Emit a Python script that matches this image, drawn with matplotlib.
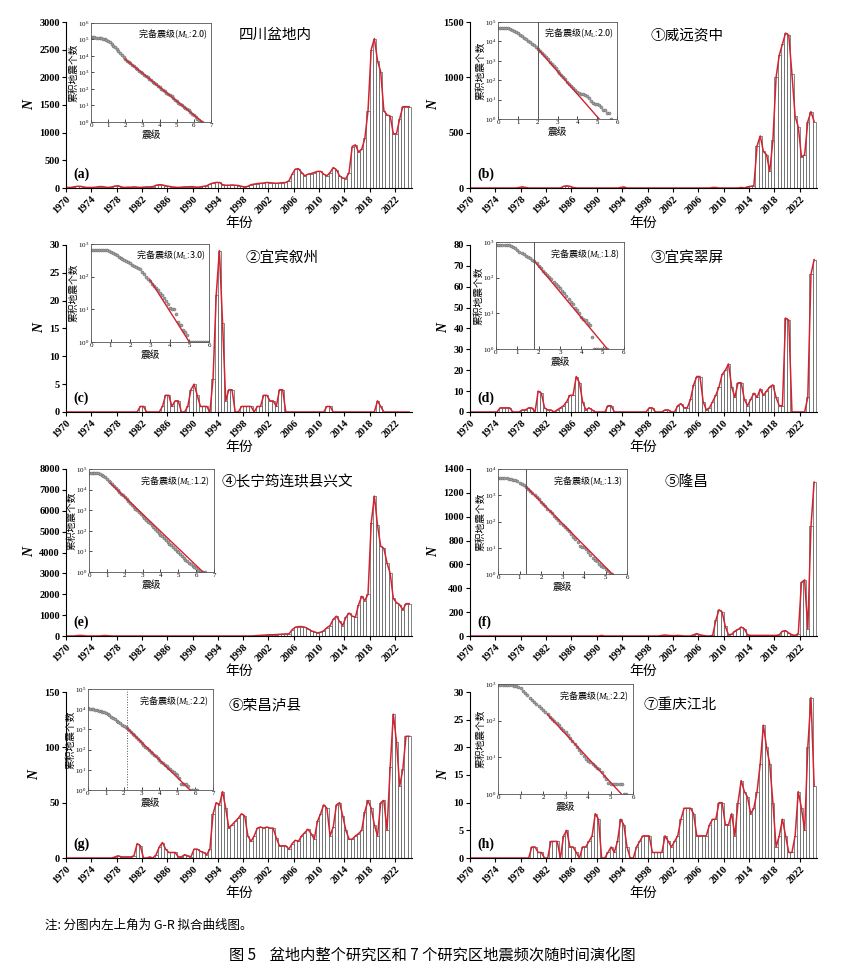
import matplotlib
matplotlib.use('Agg')
import matplotlib.pyplot as plt
import numpy as np

''' Earthquake frequency vs time (half-year bins) with G-R insets '''

plt.rcParams['font.family'] = ['Liberation Serif', 'Noto Sans CJK SC']
plt.rcParams['mathtext.fontset'] = 'custom'
plt.rcParams['mathtext.it'] = 'Liberation Serif:italic'
plt.rcParams['mathtext.rm'] = 'Liberation Serif'

# half-year counts, first bin starts 1970.0, last bin starts 2024.0
counts_a = [10,10, 20,30, 30,20, 10,10, 10,15, 25,25, 15,10, 20,35, 40,20, 10,15,
            15,20, 15,10, 15,20, 20,25, 50,60, 55,40, 30,20, 15,10, 15,20, 20,25,
            20,15, 20,30, 40,70, 90,100, 100,60, 50,50, 55,50, 45,30, 20,30, 60,70,
            80,85, 90,100, 95,90, 85,90, 95,100, 130,250, 340,350, 280,220, 250,260, 280,300,
            300,250, 220,280, 370,330, 220,180, 170,280, 750,780, 650,700, 900,1400, 2500,2700, 2300,2100,
            1400,1320, 1300,980, 980,1250, 1470,1470, 1470]
counts_b = [0,0, 0,0, 0,0, 0,0, 0,0, 0,0, 0,0, 0,5, 10,5, 0,0,
            0,0, 0,0, 0,0, 0,0, 0,15, 20,15, 5,0, 0,0, 0,0, 0,0,
            0,0, 0,0, 0,0, 0,5, 10,0, 0,0, 0,0, 0,0, 0,0, 0,0,
            0,0, 0,0, 0,0, 0,0, 0,0, 0,0, 0,0, 0,0, 5,5, 0,0,
            0,0, 0,0, 0,5, 0,10, 15,20, 380,470, 330,300, 150,430, 1000,1200, 1300,1400,
            1380,1030, 650,550, 280,300, 600,690, 600]
counts_c = [0,0, 0,0, 0,0, 0,0, 0,0, 0,0, 0,0, 0,0, 0,0, 0,0,
            0,0, 0,1, 1,0, 0,0, 0,0, 1,3, 3,1, 2,2, 0,0, 1,4,
            5,3, 1,1, 1,0, 6,21, 29,16, 2,4, 4,0, 0,1, 1,1, 1,0,
            1,1, 3,3, 2,2, 1,4, 4,0, 0,0, 0,0, 0,0, 0,0, 0,0,
            0,0, 1,1, 0,0, 0,0, 0,0, 0,0, 0,0, 0,0, 0,0, 2,1,
            0,0, 0,0, 0,0, 0,0, 0]
counts_d = [0,0, 0,0, 0,0, 0,0, 0,2, 2,2, 2,0, 0,0, 1,1, 2,2,
            0,10, 9,2, 1,1, 0,1, 2,3, 5,8, 8,17, 14,5, 1,2, 1,0,
            0,0, 0,3, 3,0, 0,0, 0,0, 0,0, 0,0, 0,0, 2,2, 0,0,
            0,1, 1,0, 0,3, 4,2, 2,6, 13,17, 17,5, 1,2, 5,8, 12,18,
            20,23, 12,7, 14,14, 6,3, 6,9, 7,11, 8,10, 12,13, 7,3, 3,45,
            44,0, 0,0, 0,0, 7,66, 73]
counts_e = [0,0, 0,20, 30,20, 0,0, 0,0, 0,15, 25,10, 0,0, 0,0, 0,0,
            0,0, 0,0, 0,0, 0,0, 0,0, 0,0, 0,0, 0,0, 0,0, 0,0,
            0,0, 0,0, 0,0, 0,0, 0,0, 0,0, 0,0, 0,0, 0,0, 0,10,
            20,30, 40,50, 60,60, 70,80, 90,100, 100,300, 420,450, 450,420, 350,250, 200,150,
            180,250, 400,500, 800,950, 700,500, 900,1100, 950,900, 1500,1900, 1700,2000, 5400,6700, 5300,4300,
            4200,3500, 3000,1800, 1600,1500, 1250,1550, 1550]
counts_f = [0,0, 0,0, 0,0, 0,0, 0,0, 0,0, 0,0, 0,0, 0,0, 0,0,
            0,0, 0,0, 0,0, 0,0, 0,0, 0,0, 0,0, 0,0, 0,0, 0,0,
            0,5, 0,0, 0,0, 0,0, 0,0, 0,0, 0,0, 0,0, 0,0, 0,0,
            5,8, 5,3, 3,5, 3,0, 0,0, 10,20, 10,5, 0,0, 5,130, 220,200,
            80,10, 15,40, 55,75, 60,10, 5,5, 5,5, 5,5, 5,5, 5,10, 40,45,
            25,10, 5,20, 450,470, 60,920, 1290]
counts_g = [0,0, 0,0, 0,0, 0,0, 0,0, 0,0, 0,0, 0,1, 2,1, 1,1,
            1,2, 13,11, 0,0, 1,0, 3,10, 14,8, 5,5, 5,1, 1,3, 2,1,
            8,8, 6,5, 3,8, 40,50, 48,60, 45,27, 30,33, 36,40, 38,20, 15,20,
            27,28, 27,28, 27,27, 18,11, 11,11, 8,13, 16,15, 20,23, 26,22, 17,33,
            40,48, 45,20, 28,48, 50,38, 25,17, 17,20, 22,25, 42,52, 45,30, 20,50,
            52,25, 82,130, 105,65, 80,110, 110]
counts_h = [0,0, 0,0, 0,0, 0,0, 0,0, 0,0, 0,0, 0,0, 0,0, 0,2,
            2,1, 1,0, 0,3, 3,3, 0,4, 5,2, 2,1, 0,2, 2,3, 4,8,
            7,0, 0,1, 2,1, 3,7, 6,2, 0,0, 2,3, 4,4, 4,1, 1,1,
            1,4, 3,2, 3,4, 7,9, 9,9, 8,4, 4,4, 4,6, 7,7, 10,10,
            6,6, 8,4, 10,14, 12,11, 8,9, 12,17, 24,20, 17,10, 2,4, 7,4,
            1,1, 4,12, 9,5, 20,29, 13]

# G-R insets: log10 of cumulative count at magnitude 0.0, 0.1, 0.2 ...
gr_a = [5.13,5.13,5.13,5.12,5.12,5.11, 5.09,5.06,5.02,4.97,4.90, 4.82,4.73,4.63,4.52,4.41,
        4.29,4.17,4.05,3.92,3.80, 3.72,3.63,3.55,3.46,3.38, 3.29,3.21,3.12,3.04,2.96,
        2.87,2.79,2.70,2.62,2.53, 2.45,2.37,2.28,2.20,2.11, 2.03,1.94,1.86,1.77,1.69,
        1.63,1.55,1.44,1.35,1.27, 1.18,1.10,1.01,0.93,0.85, 0.78,0.70,0.60,0.48,0.40,
        0.30,0.18,0.10,0.00,0.00]
gr_b = [4.71,4.71,4.70,4.70,4.69,4.67, 4.64,4.60,4.55,4.49,4.42, 4.35,4.28,4.20,4.12,4.04,
        3.96,3.88,3.79,3.71,3.62, 3.51,3.40,3.29,3.18,3.07, 2.96,2.84,2.73,2.62,2.50,
        2.39,2.27,2.16,2.04,1.93, 1.81,1.70,1.58,1.47,1.38, 1.34,1.30,1.27,1.23,1.18,
        1.08,0.95,0.85,0.78,0.78, 0.70,0.60,0.48,0.48,0.30, 0.30,0.00]
gr_c = [2.82,2.82,2.82,2.82,2.82,2.82,2.82,2.82,2.82, 2.80,2.77,2.73,2.69,2.65,
        2.61,2.57,2.54,2.50,2.47, 2.44,2.41,2.37,2.33,2.30, 2.27,2.22,2.15,2.07,1.98,
        1.92,1.86,1.79,1.72,1.65, 1.58,1.51,1.43,1.34,1.26, 1.15,1.04,1.00,1.00,0.85,
        0.60,0.52,0.52,0.36,0.30, 0.20,0.00,0.00,0.00,0.00, 0,0,0,0,0, 0,0]
gr_d = [2.92,2.92,2.92,2.92,2.92,2.92,2.92, 2.90,2.87,2.83,2.78,2.73, 2.69,2.65,2.62,2.58,2.55,
        2.50,2.46,2.40,2.33,2.26, 2.20,2.14,2.08,2.01,1.95, 1.89,1.83,1.77,1.71,1.64,
        1.57,1.49,1.41,1.33,1.25, 1.15,1.08,1.00,0.91,0.85, 0.82,0.72,0.68,0.35,0.00,
        0,0,0,0,0,0]
gr_e = [4.82,4.82,4.81,4.81,4.80,4.79, 4.76,4.72,4.66,4.59,4.51, 4.43,4.35,4.26,4.17,4.08,
        3.99,3.90,3.81,3.72,3.62, 3.53,3.44,3.35,3.26,3.17, 3.08,2.99,2.90,2.81,2.72,
        2.63,2.54,2.45,2.36,2.27, 2.18,2.09,2.00,1.91,1.82, 1.73,1.64,1.56,1.47,1.38,
        1.30,1.21,1.12,1.03,0.95, 0.86,0.78,0.70,0.60,0.52, 0.45,0.40,0.30,0.25,0.20,
        0.10,0.00,0.00,0.00,0.00]
gr_f = [3.64,3.64,3.64,3.64,3.64, 3.63,3.62,3.60,3.57,3.53, 3.48,3.43,3.38,3.33,3.25,
        3.17,3.09,3.01,2.93,2.85, 2.76,2.67,2.58,2.49,2.40, 2.31,2.22,2.13,2.04,1.95,
        1.87,1.78,1.70,1.62,1.52, 1.42,1.32,1.22,1.05,1.02, 1.02,0.95,0.85,0.72,0.60,
        0.53,0.48,0.40,0.30,0.25, 0.19,0.10,0.00,0.00]
gr_g = [4.04,4.03,4.02,4.00,3.98, 3.96,3.93,3.90,3.87,3.84, 3.80,3.75,3.69,3.63,3.57,
        3.50,3.44,3.37,3.31,3.24, 3.17,3.11,3.05,2.97,2.88, 2.79,2.70,2.61,2.52,2.42,
        2.31,2.23,2.15,2.07,1.98, 1.90,1.82,1.74,1.66,1.57, 1.49,1.41,1.33,1.25,1.17,
        1.09,1.02,0.95,0.87,0.80, 0.74,0.60,0.30,0.30,0.30, 0.30,0.20,0.00,0.00,0.00,
        0.00,0.00]
gr_h = [2.97,2.97,2.97,2.97,2.97, 2.97,2.96,2.95,2.94,2.92, 2.88,2.82,2.76,2.69,2.62,
        2.56,2.50,2.45,2.39,2.34, 2.29,2.23,2.17,2.11,2.05, 1.99,1.93,1.87,1.81,1.75,
        1.69,1.60,1.52,1.44,1.36, 1.28,1.20,1.12,1.04,0.96, 0.91,0.86,0.81,0.76,0.72,
        0.69,0.60,0.48,0.40,0.30, 0.27,0.27,0.27,0.27,0.27, 0.27,0.00,0.00]

titles = ['四川盆地内', '①威远资中', '②宜宾叙州', '③宜宾翠屏',
          '④长宁筠连珙县兴文', '⑤隆昌', '⑥荣昌泸县', '⑦重庆江北']
letters = ['(a)', '(b)', '(c)', '(d)', '(e)', '(f)', '(g)', '(h)']
mc = [2.0, 2.0, 3.0, 1.8, 1.2, 1.3, 2.2, 2.2]
fit_a = [5.49, 5.97, 4.75, 3.76, 5.30, 4.41, 4.97, 3.62]
fit_b = [0.844, 1.17, 0.95, 0.72, 0.83, 0.83, 0.87, 0.66]

all_counts = [counts_a, counts_b, counts_c, counts_d, counts_e, counts_f, counts_g, counts_h]
all_gr = [gr_a, gr_b, gr_c, gr_d, gr_e, gr_f, gr_g, gr_h]

# layout (pixels of the 841x975 picture)
W, H = 841, 975
cols = [(66, 412), (470, 817)]
rows = [(22, 188), (245, 412), (469, 636), (692, 858)]
ymax = [3000, 1500, 30, 80, 8000, 1400, 150, 30]
ystep = [500, 500, 5, 10, 1000, 200, 50, 5]
title_x = [0.50, 0.52, 0.52, 0.52, 0.45, 0.56, 0.47, 0.50]
inset_box = [(91, 23, 211, 122), (498, 22, 617, 119), (91, 244, 209, 342), (496, 242, 624, 349),
             (89, 469, 214, 572), (498, 469, 627, 574), (88, 689, 213, 790), (498, 684, 633, 794)]
inset_xmax = [7, 6, 6, 6, 7, 6, 7, 6]
inset_dec = [6, 5, 3, 3, 5, 4, 5, 3]
mc_line = [None, '-', None, '-', None, '-', ':', None]

fig = plt.figure(figsize=(W / 100, H / 100), dpi=100)


def px_axes(l, t, r, b):
    return fig.add_axes([l / W, 1 - b / H, (r - l) / W, (b - t) / H])


for i in range(8):
    l, r = cols[i % 2]
    t, b = rows[i // 2]
    ax = px_axes(l, t, r, b)
    vals = np.array(all_counts[i], dtype=float)
    starts = 1970 + 0.5 * np.arange(len(vals))
    ax.bar(starts, vals, width=0.5, align='edge', facecolor='white',
           edgecolor='#555555', linewidth=0.5)
    ax.plot(starts + 0.25, vals, color='#d2232f', lw=1.1)
    ax.set_xlim(1970, 2024.7)
    ax.set_ylim(0, ymax[i])
    ax.set_yticks(np.arange(0, ymax[i] + 1, ystep[i]))
    ax.set_xticks(np.arange(1970, 2023, 4))
    ax.spines['top'].set_visible(False)
    ax.spines['right'].set_visible(False)
    ax.tick_params(labelsize=7.5, length=3, width=0.8, pad=1.5)
    plt.setp(ax.get_xticklabels(), rotation=45, ha='right', rotation_mode='anchor',
             fontweight='bold')
    plt.setp(ax.get_yticklabels(), fontweight='bold')
    ax.set_xlabel('年份', fontsize=10, labelpad=1)
    ax.set_ylabel('N', fontsize=10, fontstyle='italic', fontweight='bold', labelpad=2)
    ax.text(title_x[i], 0.96, titles[i], transform=ax.transAxes, fontsize=10.5, va='top')
    ax.text(0.02, 0.06, letters[i], transform=ax.transAxes, fontsize=10, fontweight='bold')

    # G-R inset
    iax = px_axes(*inset_box[i])
    logn = np.array(all_gr[i])
    mags = 0.1 * np.arange(len(logn))
    iax.set_yscale('log')
    iax.plot(mags, 10 ** logn, 'o', ms=2.2, mfc='#a0a0a0', mec='#606060', mew=0.3)
    m_end = fit_a[i] / fit_b[i]
    m_fit = np.array([mc[i], m_end])
    iax.plot(m_fit, 10 ** (fit_a[i] - fit_b[i] * m_fit), color='#d2232f', lw=1.0)
    if mc_line[i] is not None:
        iax.axvline(mc[i], color='#555555', lw=0.7, ls=mc_line[i])
    iax.set_xlim(0, inset_xmax[i])
    iax.set_ylim(1, 10 ** inset_dec[i])
    iax.set_xticks(range(inset_xmax[i] + 1))
    iax.set_yticks([10 ** k for k in range(inset_dec[i] + 1)])
    iax.minorticks_off()
    iax.tick_params(labelsize=5, direction='in', length=2, width=0.5, pad=1)
    for s in iax.spines.values():
        s.set_linewidth(0.6)
        s.set_color('#555555')
    iax.set_xlabel('震级', fontsize=7, labelpad=1)
    iax.set_ylabel('累积地震个数', fontsize=7, labelpad=0)
    iax.text(0.97, 0.95, '完备震级($M_{\\mathrm{L}}$:%.1f)' % mc[i], transform=iax.transAxes,
             ha='right', va='top', fontsize=6.5, family='Noto Sans CJK SC')

fig.text(45 / W, 1 - 925 / H, '注: 分图内左上角为 G-R 拟合曲线图。', fontsize=9,
         va='center', family='Noto Sans CJK SC')
fig.text(0.514, 1 - 955 / H, '图 5    盆地内整个研究区和 7 个研究区地震频次随时间演化图',
         ha='center', va='center', fontsize=11, family='Noto Sans CJK SC')

fig.savefig('out.png', dpi=100)
